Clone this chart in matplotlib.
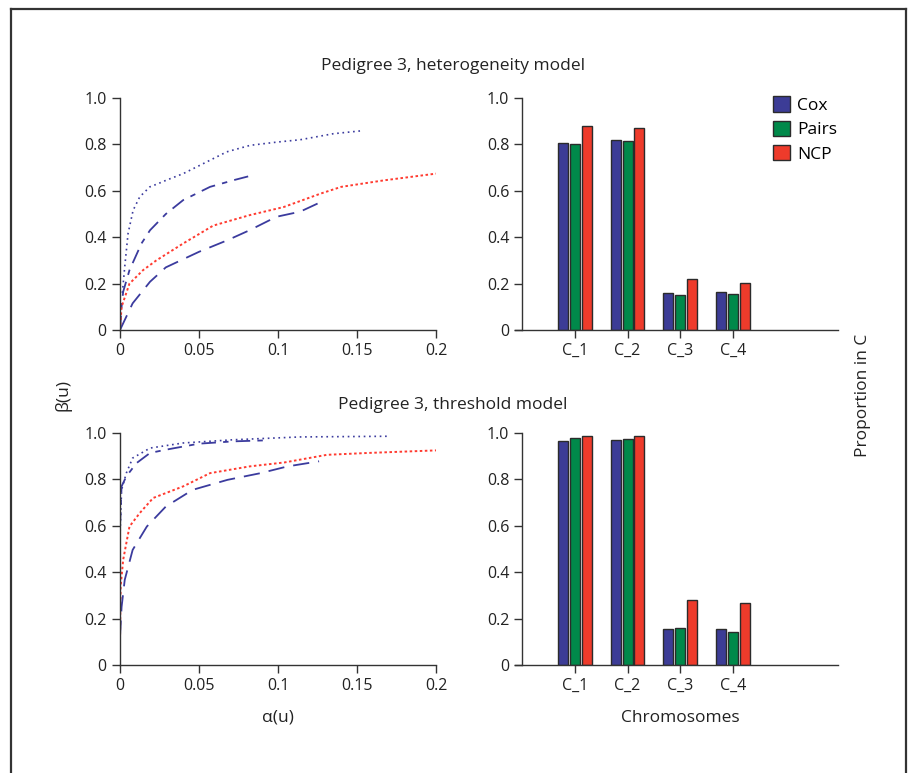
import matplotlib
matplotlib.use("Agg")
import matplotlib.pyplot as plt
from matplotlib.lines import Line2D

plt.rcParams["font.family"] = ["Open Sans", "DejaVu Sans"]
plt.rcParams["font.size"] = 11.5

# -----------------------------
# data
# -----------------------------
# heterogeneity model, ROC-like curves (alpha(u), beta(u))
het_dot_x = [0.0015, 0.003, 0.0051, 0.0083, 0.0125, 0.0189, 0.0242, 0.0294, 0.040,
             0.0506, 0.0676, 0.0824, 0.0994, 0.114, 0.135, 0.152]
het_dot_y = [0.16, 0.273, 0.416, 0.516, 0.574, 0.617, 0.631, 0.646, 0.674,
             0.71, 0.768, 0.796, 0.81, 0.82, 0.846, 0.858]

het_dashdot_x = [0.0, 0.001, 0.002, 0.006, 0.0136, 0.019, 0.029, 0.040, 0.057, 0.072, 0.0845]
het_dashdot_y = [0.0, 0.10, 0.165, 0.258, 0.373, 0.43, 0.50, 0.56, 0.617, 0.646, 0.668]

het_red_x = [0.0, 0.001, 0.006, 0.0146, 0.023, 0.040, 0.059, 0.082, 0.1036, 0.127, 0.140, 0.167, 0.2]
het_red_y = [0.0, 0.10, 0.20, 0.258, 0.30, 0.373, 0.45, 0.495, 0.53, 0.588, 0.617, 0.645, 0.674]

het_dash_x = [0.0, 0.008, 0.019, 0.029, 0.050, 0.068, 0.082, 0.099, 0.114, 0.126]
het_dash_y = [0.0, 0.115, 0.208, 0.27, 0.337, 0.387, 0.43, 0.488, 0.51, 0.548]

# threshold model
thr_dot_x = [0.0, 0.001, 0.004, 0.008, 0.019, 0.040, 0.072, 0.114, 0.171]
thr_dot_y = [0.554, 0.755, 0.827, 0.892, 0.935, 0.957, 0.971, 0.983, 0.986]

thr_dashdot_x = [0.0, 0.001, 0.004, 0.0104, 0.019, 0.029, 0.050, 0.072, 0.091]
thr_dashdot_y = [0.597, 0.77, 0.813, 0.87, 0.914, 0.928, 0.954, 0.964, 0.968]

thr_red_x = [0.0, 0.0004, 0.002, 0.006, 0.0125, 0.021, 0.040, 0.057, 0.082, 0.104, 0.131, 0.157, 0.2]
thr_red_y = [0.108, 0.338, 0.453, 0.597, 0.655, 0.72, 0.77, 0.827, 0.856, 0.873, 0.906, 0.914, 0.925]

thr_dash_x = [0.0, 0.001, 0.003, 0.008, 0.017, 0.029, 0.046, 0.068, 0.089, 0.106, 0.126]
thr_dash_y = [0.122, 0.25, 0.367, 0.496, 0.597, 0.683, 0.755, 0.798, 0.827, 0.856, 0.878]

# proportion in C per chromosome
chromosomes = ["C_1", "C_2", "C_3", "C_4"]
het_cox = [0.806, 0.818, 0.158, 0.164]
het_pairs = [0.800, 0.813, 0.151, 0.155]
het_ncp = [0.878, 0.872, 0.220, 0.204]

thr_cox = [0.967, 0.971, 0.155, 0.155]
thr_pairs = [0.978, 0.974, 0.159, 0.144]
thr_ncp = [0.989, 0.986, 0.282, 0.269]

y_ticks = [0, 0.2, 0.4, 0.6, 0.8, 1.0]
y_ticklabels = ["0", "0.2", "0.4", "0.6", "0.8", "1.0"]
x_ticks = [0, 0.05, 0.1, 0.15, 0.2]
x_ticklabels = ["0", "0.05", "0.1", "0.15", "0.2"]

# -----------------------------
# styles
# -----------------------------
W, H = 908, 773
blue = "#3b3b9e"
red = "#ff3b30"
bar_colors = ["#3c3c96", "#00894a", "#ee3b2b"]
spine_col = "#333333"

fig = plt.figure(figsize=(W / 100, H / 100), dpi=100)


def px_axes(x0, x1, ytop, ybot):
    return fig.add_axes([x0 / W, 1 - ybot / H, (x1 - x0) / W, (ybot - ytop) / H])


def style_axes(ax):
    for s in ["top", "right"]:
        ax.spines[s].set_visible(False)
    for s in ["left", "bottom"]:
        ax.spines[s].set_color(spine_col)
        ax.spines[s].set_linewidth(1.0)
    ax.tick_params(direction="out", length=6, width=1.0, color=spine_col,
                   labelcolor="#222222", labelsize=11.5)
    ax.set_ylim(0, 1.0)
    ax.set_yticks(y_ticks)
    ax.set_yticklabels(y_ticklabels)


def line_panel(ax, dot, dashdot, redc, dash):
    ax.plot(dot[0], dot[1], color=blue, lw=1.2, linestyle=(0, (1, 2.2)))
    ax.plot(dashdot[0], dashdot[1], color=blue, lw=1.3, linestyle=(0, (8, 4, 3, 4)))
    ax.plot(redc[0], redc[1], color=red, lw=1.4, linestyle=(0, (1.3, 1.3)))
    ax.plot(dash[0], dash[1], color=blue, lw=1.3, linestyle=(0, (9, 5)))
    ax.set_xlim(0, 0.2)
    ax.set_xticks(x_ticks)
    ax.set_xticklabels(x_ticklabels)
    style_axes(ax)


def bar_panel(ax, cox, pairs, ncp, legend=False):
    pos = list(range(1, len(chromosomes) + 1))
    w = 0.19
    step = 0.225
    for vals, off, col, lab in zip([cox, pairs, ncp], [-step, 0, step], bar_colors,
                                   ["Cox", "Pairs", "NCP"]):
        ax.bar([p + off for p in pos], vals, width=w, color=col,
               edgecolor="#2b2b2b", linewidth=1.0, label=lab)
    ax.set_xlim(-0.14, 6.0)
    ax.set_xticks(pos)
    ax.set_xticklabels(chromosomes)
    style_axes(ax)
    ax.spines["left"].set_position(("data", 0))
    if legend:
        ax.legend(loc="upper right", bbox_to_anchor=(1.045, 1.075), frameon=False,
                  handlelength=1.0, handleheight=1.0, handletextpad=0.4,
                  labelspacing=0.38, fontsize=12.5)


ax1 = px_axes(120, 436, 98, 330)
line_panel(ax1, (het_dot_x, het_dot_y), (het_dashdot_x, het_dashdot_y),
           (het_red_x, het_red_y), (het_dash_x, het_dash_y))

ax2 = px_axes(515, 838, 98, 330)
bar_panel(ax2, het_cox, het_pairs, het_ncp, legend=True)

ax3 = px_axes(120, 436, 433, 665)
line_panel(ax3, (thr_dot_x, thr_dot_y), (thr_dashdot_x, thr_dashdot_y),
           (thr_red_x, thr_red_y), (thr_dash_x, thr_dash_y))

ax4 = px_axes(515, 838, 433, 665)
bar_panel(ax4, thr_cox, thr_pairs, thr_ncp)


def ftext(x, y, s, **kw):
    fig.text(x / W, 1 - y / H, s, ha="center", va="center", color="#222222", **kw)


ftext(453, 66, "Pedigree 3, heterogeneity model", fontsize=12.5)
ftext(453, 405, "Pedigree 3, threshold model", fontsize=12.5)
ftext(63, 395, "β(u)", fontsize=12.5, rotation=90)
ftext(278, 717, "α(u)", fontsize=12.5)
ftext(680, 718, "Chromosomes", fontsize=12.5)
ftext(863, 395, "Proportion in C", fontsize=12.5, rotation=90)

# outer frame (open at the bottom)
fx0, fx1, fy0 = 11 / W, 906 / W, 1 - 8.5 / H
for xs, ys in [([fx0, fx0], [0, fy0]), ([fx0, fx1], [fy0, fy0]), ([fx1, fx1], [fy0, 0])]:
    fig.add_artist(Line2D(xs, ys, color="#333333", lw=1.6))

fig.savefig("out.png", dpi=100, facecolor="white")
